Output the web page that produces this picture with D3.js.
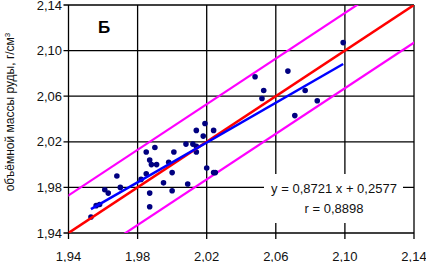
<!DOCTYPE html>
<html>
<head>
    <meta charset="UTF-8">
    <title>Б</title>
    <script src="https://cdn.jsdelivr.net/npm/d3@7"></script>
    <style>
        body { margin: 0; background: #fff; }
        text { font-family: "Liberation Sans", Arial, sans-serif; }
    </style>
</head>
<body>
    <svg id="chart" width="426" height="262"></svg>
    <script>
        // значения
        var xVals = [1.953, 1.956, 1.958, 1.961, 1.963, 1.968, 1.970, 1.982, 1.985, 1.987,
                     1.987, 1.985, 1.987, 1.988, 1.991, 1.990, 1.995, 1.998, 2.000, 2.001,
                     2.000, 2.008, 2.012, 2.009, 2.014, 2.014, 2.014, 2.018, 2.019, 2.024,
                     2.020, 2.024, 2.025, 2.048, 2.052, 2.053, 2.067, 2.071, 2.077, 2.084,
                     2.099];
        var yVals = [1.954, 1.964, 1.965, 1.978, 1.975, 1.990, 1.980, 1.987, 1.992, 1.975,
                     1.963, 2.011, 2.004, 2.000, 2.000, 2.015, 1.984, 2.002, 1.993, 2.011,
                     1.977, 2.018, 2.018, 1.983, 2.016, 2.011, 2.030, 2.025, 2.036, 2.030,
                     1.997, 1.993, 1.993, 2.077, 2.058, 2.065, 2.082, 2.043, 2.065, 2.056,
                     2.107];
        var tickVals = [1.94, 1.98, 2.02, 2.06, 2.10, 2.14];
        var domain = [1.94, 2.14];
        var slope = 0.8721, intercept = 0.2577;   // линия регрессии
        var regRange = [1.953, 2.099];
        var band = 0.033;                         // сдвиг розовых линий от y = x
        var eqLines = ["y = 0,8721 x + 0,2577", "r = 0,8898"];

        var svg = d3.select("#chart");
        var x = d3.scaleLinear().domain(domain).range([68.5, 414]);
        var y = d3.scaleLinear().domain(domain).range([233, 5]);
        var fmt = function (d) { return d.toFixed(2).replace(".", ","); };

        svg.append("defs").append("clipPath").attr("id", "clip")
            .append("rect")
            .attr("x", x(domain[0])).attr("y", y(domain[1]))
            .attr("width", x(domain[1]) - x(domain[0]))
            .attr("height", y(domain[0]) - y(domain[1]));

        // сетка
        var grid = svg.append("g").attr("stroke", "#000").attr("stroke-width", 1.3);
        grid.selectAll(".gy").data(tickVals).enter().append("line")
            .attr("x1", x(domain[0]) - 5).attr("x2", x(domain[1]))
            .attr("y1", function (d) { return y(d); })
            .attr("y2", function (d) { return y(d); });
        grid.selectAll(".gx").data(tickVals).enter().append("line")
            .attr("y1", y(domain[0]) + 6).attr("y2", y(domain[1]))
            .attr("x1", function (d) { return x(d); })
            .attr("x2", function (d) { return x(d); });

        // подписи осей
        svg.selectAll(".ly").data(tickVals).enter().append("text")
            .attr("x", 62).attr("y", function (d) { return y(d) + 4.5; })
            .attr("text-anchor", "end").attr("font-size", 13).attr("fill", "#111")
            .text(fmt);
        svg.selectAll(".lx").data(tickVals).enter().append("text")
            .attr("x", function (d) { return x(d); }).attr("y", 261)
            .attr("text-anchor", "middle").attr("font-size", 13).attr("fill", "#111")
            .text(fmt);

        svg.append("text")
            .attr("transform", "translate(14,112) rotate(-90)")
            .attr("text-anchor", "middle").attr("font-size", 12).attr("fill", "#111")
            .html("объёмной массы руды, г/см<tspan dy='-4' font-size='8'>3</tspan>");

        var plot = svg.append("g").attr("clip-path", "url(#clip)");
        var line = d3.line().x(function (d) { return x(d[0]); }).y(function (d) { return y(d[1]); });

        // розовые линии
        [band, -band].forEach(function (b) {
            plot.append("path")
                .datum([[1.90, 1.90 + b], [2.18, 2.18 + b]])
                .attr("d", line).attr("stroke", "#ff00ff").attr("stroke-width", 2.2).attr("fill", "none");
        });

        // точки
        plot.selectAll(".pt").data(xVals).enter().append("circle")
            .attr("cx", function (d) { return x(d); })
            .attr("cy", function (d, i) { return y(yVals[i]); })
            .attr("r", 2.8).attr("fill", "#000080");

        // y = x
        plot.append("path").datum([domain, domain].map(function (d, i) { return [domain[i], domain[i]]; }))
            .attr("d", line).attr("stroke", "#ff0000").attr("stroke-width", 2.5).attr("fill", "none");

        // регрессия
        plot.append("path")
            .datum(regRange.map(function (v) { return [v, slope * v + intercept]; }))
            .attr("d", line).attr("stroke", "#0000ff").attr("stroke-width", 2.5).attr("fill", "none");

        // подпись Б
        svg.append("text").attr("x", 104).attr("y", 33)
            .attr("text-anchor", "middle").attr("font-size", 17).attr("font-weight", "bold")
            .text("Б");

        // уравнение
        svg.append("rect").attr("x", 264).attr("y", 174).attr("width", 139).attr("height", 49)
            .attr("fill", "#fff");
        svg.selectAll(".eq").data(eqLines).enter().append("text")
            .attr("x", 334).attr("y", function (d, i) { return 193 + i * 20; })
            .attr("text-anchor", "middle").attr("font-size", 13).attr("fill", "#111")
            .text(function (d) { return d; });
    </script>
</body>
</html>
